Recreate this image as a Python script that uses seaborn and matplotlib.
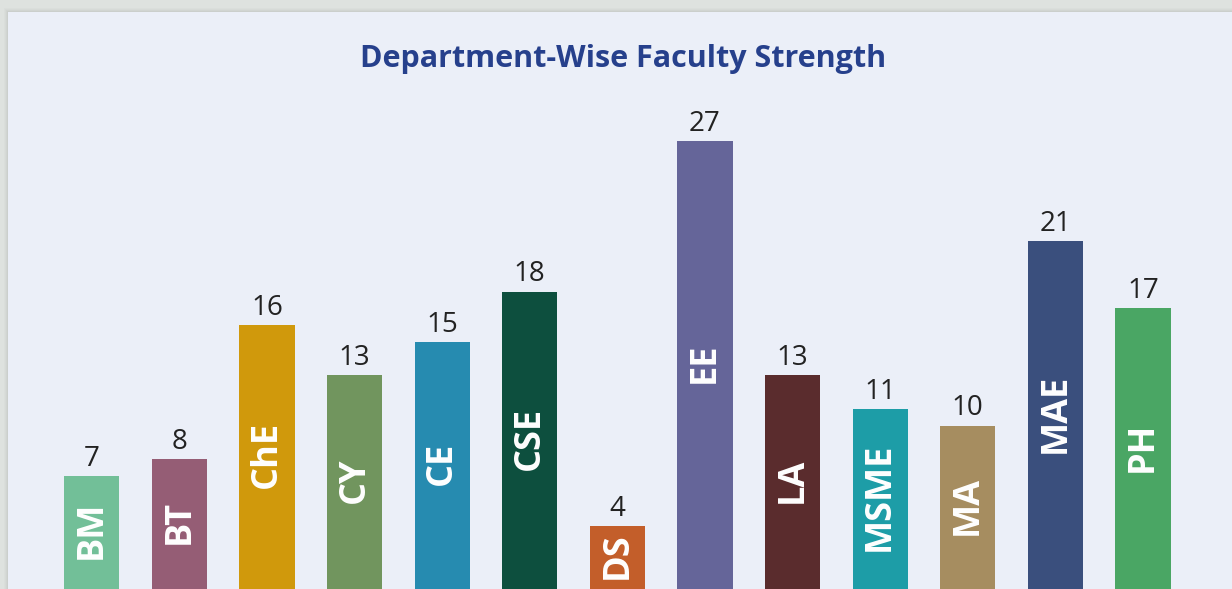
import matplotlib
matplotlib.use("Agg")
import matplotlib.pyplot as plt
import seaborn as sns
import pandas as pd
from matplotlib.patches import Rectangle

departments = ["BM", "BT", "ChE", "CY", "CE", "CSE", "DS", "EE", "LA", "MSME", "MA", "MAE", "PH"]
faculty = [7, 8, 16, 13, 15, 18, 4, 27, 13, 11, 10, 21, 17]
colors = ["#72BF98", "#955D75", "#D0990C", "#71955E", "#268BB0", "#0D4F3E", "#C35E2A",
          "#656599", "#5A2C2D", "#1D9DA7", "#A68D60", "#3A4F7D", "#4AA664"]
title = "Department-Wise Faculty Strength"

sns.set_theme(style="white")
plt.rcParams["font.family"] = ["Open Sans", "DejaVu Sans"]

W, H = 1232, 589
fig = plt.figure(figsize=(W / 100, H / 100), dpi=100)
fig.patch.set_facecolor("#DEE2DF")

# card with soft shadow
for k, a in enumerate([0.05, 0.06, 0.08, 0.10]):
    off = 4 - k
    fig.patches.append(Rectangle(((8 - off) / W, 0), 1, (H - 12 + off) / H,
                                 transform=fig.transFigure, facecolor="#9AA09C",
                                 alpha=a, edgecolor="none", zorder=-2))
fig.patches.append(Rectangle((8 / W, 0), 1, (H - 12) / H, transform=fig.transFigure,
                             facecolor="#EBEFF8", edgecolor="none", zorder=-1))

left_px, unit_px = 48, 87.6
base_px, top_px = 593, 90.5
ax = fig.add_axes([left_px / W, (H - base_px) / H, 13 * unit_px / W, (base_px - top_px) / H])
ax.set_facecolor("none")
ax.set_zorder(2)

df = pd.DataFrame({"dept": departments, "n": faculty})
sns.barplot(data=df, x="dept", y="n", hue="dept", palette=colors, legend=False,
            width=0.63, ax=ax, saturation=1, linewidth=0, edgecolor="none")
ax.set_xlim(-0.5, len(departments) - 0.5)
ax.set_ylim(0, 30)
ax.set_axis_off()

for i, (d, v) in enumerate(zip(departments, faculty)):
    ax.text(i, v + 0.6, str(v), ha="center", va="baseline", fontsize=20,
            color="#222222")
    ax.text(i, v / 2 + 0.25, d, ha="center", va="center", rotation=90, fontsize=26,
            fontweight="bold", color="white")

fig.text(623.5 / W, 1 - 59 / H, title, ha="center", va="center", fontsize=22,
         fontweight="bold", color="#26408C", zorder=3)

fig.savefig("out.png", dpi=100, facecolor=fig.get_facecolor())
